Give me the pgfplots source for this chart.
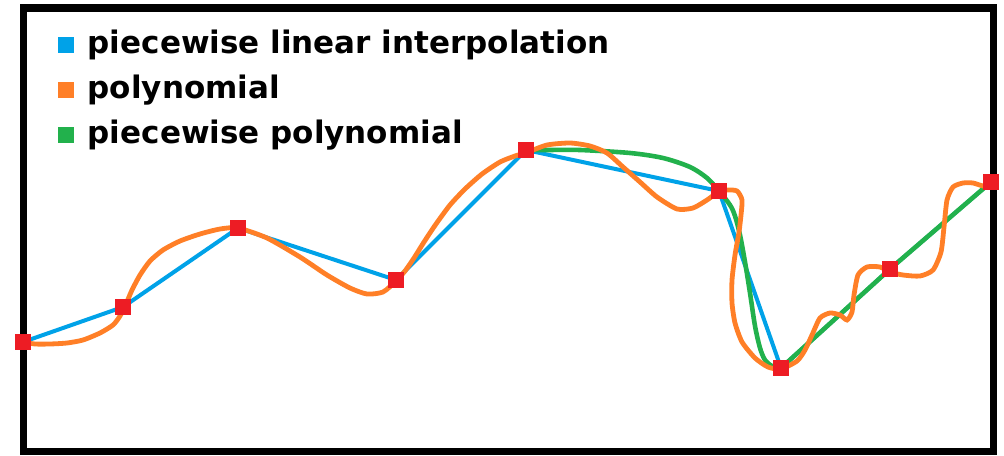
\documentclass[border=0pt]{standalone}
\usepackage{fontspec}
\setmainfont{DejaVu Sans}
\usepackage{pgfplots}
\pgfplotsset{compat=1.18}
\definecolor{pblue}{HTML}{00A2E8}
\definecolor{porange}{HTML}{FF7F27}
\definecolor{pgreen}{HTML}{22B14C}
\definecolor{pred}{HTML}{ED1C24}
\begin{document}
\begin{tikzpicture}
\begin{axis}[
  x=0.5pt, y=0.5pt, y dir=reverse,
  xmin=23.5, xmax=993.5, ymin=8, ymax=451.5,
  xtick=\empty, ytick=\empty,
  axis line style={line width=3.5pt},
  clip=false,
  legend cell align=left,
  legend style={at={(axis cs:58,31)}, anchor=north west, draw=none, fill=none,
    inner sep=0pt, outer sep=0pt, row sep=0pt, column sep=7pt,
    nodes={inner sep=0pt, outer sep=0pt, text height=11pt, text depth=11.5pt,
      font=\bfseries\fontsize{15.5}{18}\selectfont}},
]
\coordinate (bbA) at (axis cs:0,0);
\coordinate (bbB) at (axis cs:1004,455);
% piecewise linear
\addplot[pblue, line width=2pt, forget plot] coordinates {
(23,342) (123,307) (238,228) (396,280) (526,150) (719,191) (781,368) (890,269) (991,182)};
% piecewise polynomial (curved part)
\addplot[pgreen, line width=2.3pt, smooth, tension=0.5, forget plot] coordinates {
(526,150) (547,150) (580,150) (630,153) (663,158) (690,167) (707,178) (719,191)
(730,205) (735,216) (740,235) (745,262) (750,293) (755,326) (760,348) (765,360) (772,366) (781,368)};
\addplot[pgreen, line width=2.3pt, forget plot] coordinates {
(781,368) (890,269) (991,182)};
% data points
\addplot[pred, only marks, mark=square*, mark size=3.75pt, mark options={fill=pred, draw=pred, line width=0pt}, forget plot] coordinates {
(23,342) (123,307) (238,228) (396,280) (526,150) (719,191) (781,368) (890,269) (991,182)};
% polynomial
\addplot[porange, line width=2.4pt, smooth, tension=0.4, forget plot] coordinates {
(23,342) (35,344) (50,344) (67,343) (83,340) (100,333) (113,325) (120,316) (126,304)
(132,290) (140,275) (150,261) (163,250) (180,241) (200,234) (220,229) (238,228)
(267,238) (300,257) (327,275) (350,288) (367,294) (383,292) (396,281)
(405,271) (414,258) (424,242) (436,224) (450,205) (465,189) (482,174) (500,162) (515,156)
(528,152) (547,145) (570,143) (590,146) (607,153)
(623,167) (640,182) (657,197) (677,209) (693,208) (707,200) (717,193) (727,190) (737,191)
(742,200) (741,215) (739,232) (735,255) (732,280) (732,303) (735,323) (742,342) (755,358)
(768,367) (781,369) (797,361) (805,350) (812,335) (820,318) (830,313) (840,315) (847,320)
(852,312) (854,295) (858,275) (867,267) (880,267) (890,272) (903,275) (920,276) (933,270)
(941,252) (944,227) (947,200) (953,187) (963,183) (973,183) (983,186) (991,186)};
\addlegendimage{legend image code/.code={\fill[pblue] (0pt,0.5pt) rectangle (7.5pt,8pt);}}
\addlegendentry{piecewise linear interpolation}
\addlegendimage{legend image code/.code={\fill[porange] (0pt,0.5pt) rectangle (7.5pt,8pt);}}
\addlegendentry{polynomial}
\addlegendimage{legend image code/.code={\fill[pgreen] (0pt,0.5pt) rectangle (7.5pt,8pt);}}
\addlegendentry{piecewise polynomial}
\end{axis}
\pgfresetboundingbox
\path[use as bounding box] (bbA) rectangle (bbB);
\end{tikzpicture}
\end{document}
